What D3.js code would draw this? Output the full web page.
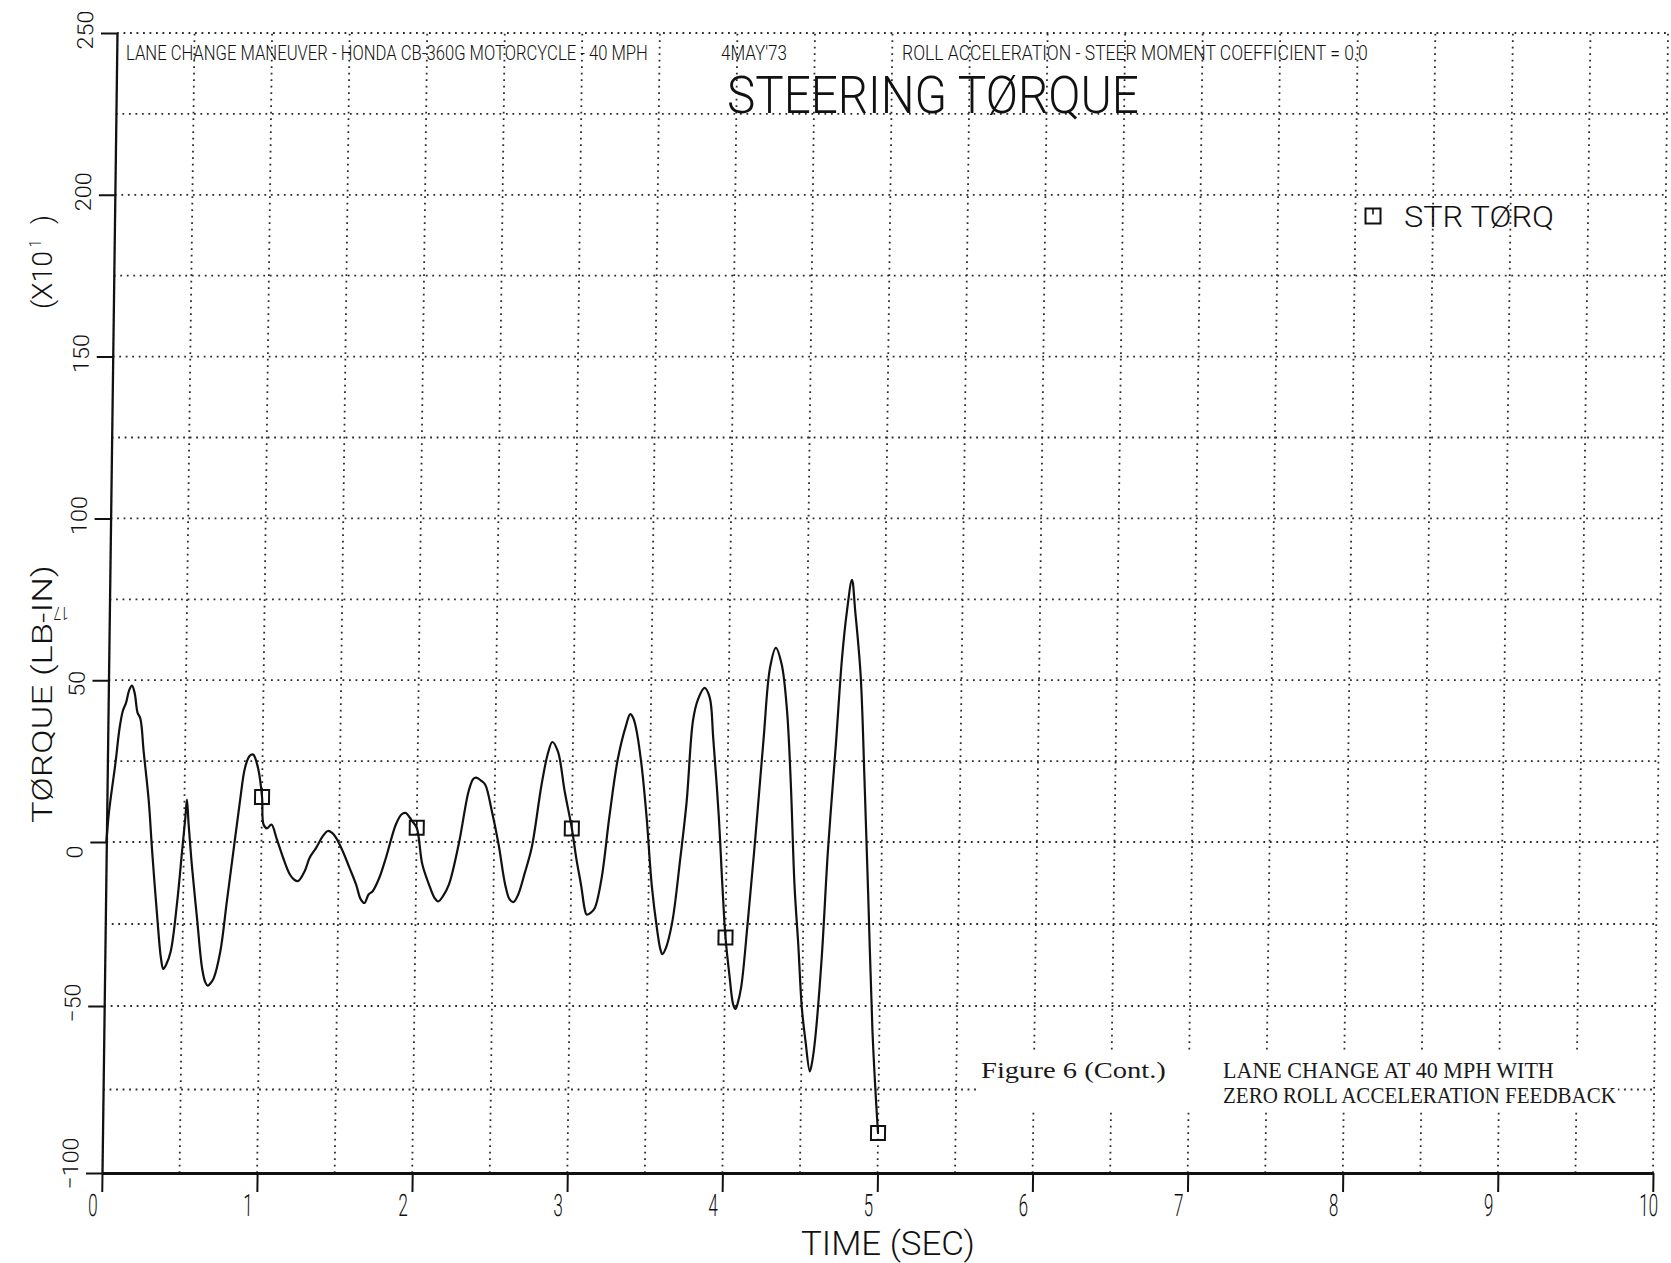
<!DOCTYPE html>
<html>
<head>
<meta charset="utf-8">
<script src="https://cdn.jsdelivr.net/npm/d3@7"></script>
<style>
  html, body { margin: 0; padding: 0; background: #fff; }
  svg { display: block; }
</style>
</head>
<body>
<svg id="chart" width="1671" height="1263"></svg>
<script>
// Steering torque time history, lane change at 40 mph (torque in x10 lb-in)
const timeSec = [
  0.000, 0.015, 0.053, 0.075, 0.095, 0.115, 0.135, 0.152, 0.170, 0.190,
  0.209, 0.233, 0.270, 0.296, 0.335, 0.362, 0.378, 0.395, 0.424, 0.462,
  0.489, 0.507, 0.516, 0.529, 0.555, 0.591, 0.628, 0.650, 0.666, 0.685,
  0.704, 0.744, 0.782, 0.820, 0.858, 0.887, 0.915, 0.939, 0.972, 1.000,
  1.012, 1.035, 1.063, 1.096, 1.141, 1.186, 1.215, 1.240, 1.281, 1.312,
  1.354, 1.395, 1.427, 1.455, 1.481, 1.525, 1.570, 1.614, 1.645, 1.669,
  1.695, 1.721, 1.763, 1.804, 1.865, 1.900, 1.927, 1.955, 1.971, 2.000,
  2.039, 2.084, 2.120, 2.145, 2.175, 2.212, 2.272, 2.331, 2.360, 2.379,
  2.410, 2.438, 2.483, 2.529, 2.575, 2.605, 2.630, 2.660, 2.700, 2.743,
  2.801, 2.840, 2.867, 2.904, 2.951, 3.000, 3.031, 3.066, 3.090, 3.102,
  3.130, 3.155, 3.195, 3.242, 3.290, 3.340, 3.367, 3.385, 3.405, 3.442,
  3.480, 3.521, 3.558, 3.580, 3.594, 3.615, 3.655, 3.702, 3.738, 3.772,
  3.802, 3.844, 3.878, 3.904, 3.946, 3.976, 4.000, 4.029, 4.055, 4.070,
  4.085, 4.106, 4.142, 4.186, 4.229, 4.264, 4.300, 4.339, 4.377, 4.407,
  4.441, 4.470, 4.498, 4.524, 4.555, 4.570, 4.588, 4.622, 4.653, 4.695,
  4.728, 4.755, 4.785, 4.809, 4.849, 4.883, 4.919, 4.955, 4.985, 5.000
];
const torqueX10 = [
   0.0,   9.5,  24.8,  35.0,  40.5,  43.0,  47.0,  48.3,  46.0,  40.0,
  38.1,  27.9,  12.6,  -2.8, -23.2, -35.5, -38.7, -37.5, -33.4, -18.1,
  -2.8,   7.4,  13.1,   5.4,  -7.9, -23.2, -38.5, -42.8, -43.8, -43.0,
 -41.5, -33.4, -18.1,  -2.8,  12.6,  22.8,  26.5,  27.0,  22.8,  13.9,
   5.4,   4.2,   5.4,   1.3,  -4.8,  -9.9, -11.5, -11.9,  -8.9,  -4.8,
  -1.7,   1.8,   3.4,   2.8,   1.3,  -2.8,  -7.9, -13.0, -17.5, -18.6,
 -16.0, -15.0, -10.9,  -4.8,   5.4,   8.5,   9.0,   7.5,   6.4,   4.4,
  -6.8, -13.0, -17.0, -18.1, -16.5, -13.0,  -0.7,  15.6,  19.5,  19.9,
  19.0,  17.7,   9.5,  -0.7, -13.0, -17.5, -18.3, -16.0,  -9.5,  -1.7,
  17.7,  27.5,  30.9,  27.9,  15.6,   4.2,  -4.9, -13.6, -20.5, -22.1,
 -21.5, -20.1, -11.4,   8.2,  25.5,  35.9,  39.5,  38.5,  35.3,  24.5,
   8.2, -13.6, -26.6, -32.5, -34.2, -32.5, -24.5,  -4.9,  12.5,  37.5,
  44.0,  47.6,  44.6,  32.1,   8.2, -13.6, -29.1, -40.8, -49.5, -50.9,
 -49.0, -44.0, -24.5,   2.7,  32.1,  53.8,  60.0,  54.9,  40.8,  19.0,
 -13.6, -31.4, -50.5, -60.3, -69.6, -66.5, -59.2, -35.3,  -2.7,  29.9,
  57.1,  71.2,  81.0,  71.2,  51.6,  19.0, -19.0, -57.1, -78.8, -88.0
];
// plotted symbol every 1.0 s of the STR TØRQ trace
const markerTimes = [1, 2, 3, 4, 5];

const xTickValues = [0, 1, 2, 3, 4, 5, 6, 7, 8, 9, 10];
const yTickValues = [-100, -50, 0, 50, 100, 150, 200, 250];

const headerLeft = "LANE CHANGE MANEUVER - HONDA CB-360G MOTORCYCLE - 40 MPH";
const headerDate = "4MAY'73";
const headerRight = "ROLL ACCELERATION - STEER MOMENT COEFFICIENT = 0.0";
const chartTitle = "STEERING TØRQUE";
const seriesName = "STR TØRQ";
const xTitle = "TIME (SEC)";
const yTitle = "TØRQUE (LB-IN)";
const yScaleNote = ["(X10", "1", ")"];
const yPlotNote = "17";
const captionLines = ["Figure 6 (Cont.)", "LANE CHANGE AT 40 MPH WITH", "ZERO ROLL ACCELERATION FEEDBACK"];

const INK = "#111";
const PLOT_FONT = "Roboto, 'DejaVu Sans', sans-serif";
const TYPE_FONT = "'Liberation Serif', 'DejaVu Serif', serif";

const svg = d3.select("#chart");
svg.append("rect").attr("width", 1671).attr("height", 1263).attr("fill", "#fff");

const x = d3.scaleLinear().domain([0, 10]).range([102, 1653]);
const y = d3.scaleLinear().domain([-100, -50, 0, 250]).range([1173, 1006, 842, 33]);

// the plotter frame leans slightly to the right toward the top
const lean = 15 / 1140;
const baseY = y(-100);
const plot = svg.append("g")
  .attr("transform", `translate(${lean * baseY},0) skewX(${-Math.atan(lean) * 180 / Math.PI})`);

// narrow plotter lettering: squeeze a text horizontally to a given run length
function squeeze(node, len) {
  const w = node.getComputedTextLength();
  return w > 0 ? len / w : 1;
}

// dotted grid: every 0.5 s and every 25 units
const gridT = d3.range(0.5, 10.001, 0.5);
const gridV = d3.range(-75, 250.001, 25);
const grid = plot.append("g")
  .attr("stroke", "#2a2a2a").attr("stroke-width", 1.8)
  .attr("stroke-dasharray", "1.8 4.7").attr("fill", "none");
grid.selectAll("line.v").data(gridT).join("line").attr("class", "v")
  .attr("x1", d => x(d)).attr("x2", d => x(d))
  .attr("y1", y(-100)).attr("y2", y(250));
grid.selectAll("line.h").data(gridV).join("line").attr("class", "h")
  .attr("x1", x(0)).attr("x2", x(10))
  .attr("y1", d => y(d)).attr("y2", d => y(d));

// axes
const gx = plot.append("g")
  .attr("transform", `translate(0,${y(-100)})`)
  .call(d3.axisBottom(x).tickValues(xTickValues).tickSize(19).tickSizeOuter(0).tickFormat(d3.format("d")));
gx.select(".domain").attr("stroke", INK).attr("stroke-width", 3);
gx.selectAll(".tick line").attr("stroke", INK).attr("stroke-width", 2);
gx.selectAll(".tick text")
  .attr("x", 0).attr("y", 0).attr("dy", null)
  .attr("text-anchor", "middle")
  .attr("font-family", PLOT_FONT).attr("font-weight", 300)
  .attr("font-size", 31).attr("fill", INK)
  .each(function (d) {
    const n = String(d).length;
    const sx = squeeze(this, 9.5 * n);
    d3.select(this).attr("transform", `translate(${-14 + 4.75 * n},${1216 - y(-100)}) scale(${sx},1)`);
  });

const gy = plot.append("g")
  .attr("transform", `translate(${x(0)},0)`)
  .call(d3.axisLeft(y).tickValues(yTickValues).tickSize(16).tickSizeOuter(0).tickFormat(d3.format("d")));
gy.select(".domain").attr("stroke", INK).attr("stroke-width", 2.3);
gy.selectAll(".tick line").attr("stroke", INK).attr("stroke-width", 2);
gy.selectAll(".tick text")
  .attr("x", 0).attr("y", 0).attr("dy", null)
  .attr("text-anchor", "start")
  .attr("font-family", PLOT_FONT).attr("font-weight", 300)
  .attr("font-size", 22).attr("fill", INK)
  .each(function (d) {
    const sx = squeeze(this, 13 * String(d).length);
    d3.select(this).attr("transform", `translate(-24,16) rotate(-90) scale(${sx},1)`);
  });

// torque trace
const pts = timeSec.map((t, i) => ({ t, v: torqueX10[i] }));
const line = d3.line().x(d => x(d.t)).y(d => y(d.v)).curve(d3.curveCatmullRom.alpha(0.5));
plot.append("path").datum(pts)
  .attr("d", line)
  .attr("fill", "none").attr("stroke", INK).attr("stroke-width", 2.2)
  .attr("stroke-linejoin", "round").attr("stroke-linecap", "round");

function drawSymbol(sel, size) {
  const h = size / 2;
  sel.append("rect").attr("x", -h).attr("y", -h).attr("width", size).attr("height", size)
    .attr("fill", "none").attr("stroke", INK).attr("stroke-width", 2);
  sel.append("line").attr("x1", 0).attr("x2", 0).attr("y1", -h).attr("y2", -h + size * 0.4)
    .attr("stroke", INK).attr("stroke-width", 1.6);
}
const markerPts = markerTimes.map(mt => pts.find(p => Math.abs(p.t - mt) < 1e-6)).filter(Boolean);
plot.append("g").selectAll("g").data(markerPts).join("g")
  .attr("transform", d => `translate(${x(d.t)},${y(d.v)})`)
  .each(function () { drawSymbol(d3.select(this), 14); });

// plot annotation text
function label(str, px, py, size, len, opts = {}) {
  const g = svg.append("g")
    .attr("transform", `translate(${px},${py})` + (opts.rotate ? ` rotate(${opts.rotate})` : ""));
  const t = g.append("text")
    .attr("x", 0).attr("y", 0)
    .attr("font-family", opts.family || PLOT_FONT)
    .attr("font-weight", opts.weight || 300)
    .attr("font-size", size)
    .attr("fill", opts.fill || INK)
    .attr("text-anchor", opts.anchor || "start")
    .text(str);
  if (len) t.attr("transform", `scale(${squeeze(t.node(), len)},1)`);
  return t;
}

label(headerLeft, 126, 60, 21, 522);
label(headerDate, 721, 60, 21, 66);
label(headerRight, 902, 60, 21, 466);
label(chartTitle, 727, 113, 51, 412);

// legend
const leg = svg.append("g").attr("transform", "translate(1373,216)");
drawSymbol(leg, 15);
label(seriesName, 1404, 227, 29, 150);

// axis titles
label(xTitle, 801, 1254.5, 33, 174);
label(yTitle, 52, 823, 28, 258, { rotate: -90 });
label(yScaleNote[0], 52, 309, 28, 58, { rotate: -90 });
label(yScaleNote[1], 41, 247, 17, 7, { rotate: -90 });
label(yScaleNote[2], 52, 224, 28, 9, { rotate: -90 });
label(yPlotNote, 61, 607, 18, 15, { rotate: 180, anchor: "middle" });

// typed figure caption pasted over the grid
svg.append("rect").attr("x", 978).attr("y", 1054).attr("width", 640).attr("height", 54).attr("fill", "#fff");
label(captionLines[0], 981, 1078, 24, 185, { family: TYPE_FONT, weight: 400, fill: "#1a1a1a" });
label(captionLines[1], 1223, 1078, 24, 331, { family: TYPE_FONT, weight: 400, fill: "#1a1a1a" });
label(captionLines[2], 1223, 1103, 24, 393, { family: TYPE_FONT, weight: 400, fill: "#1a1a1a" });
</script>
</body>
</html>
